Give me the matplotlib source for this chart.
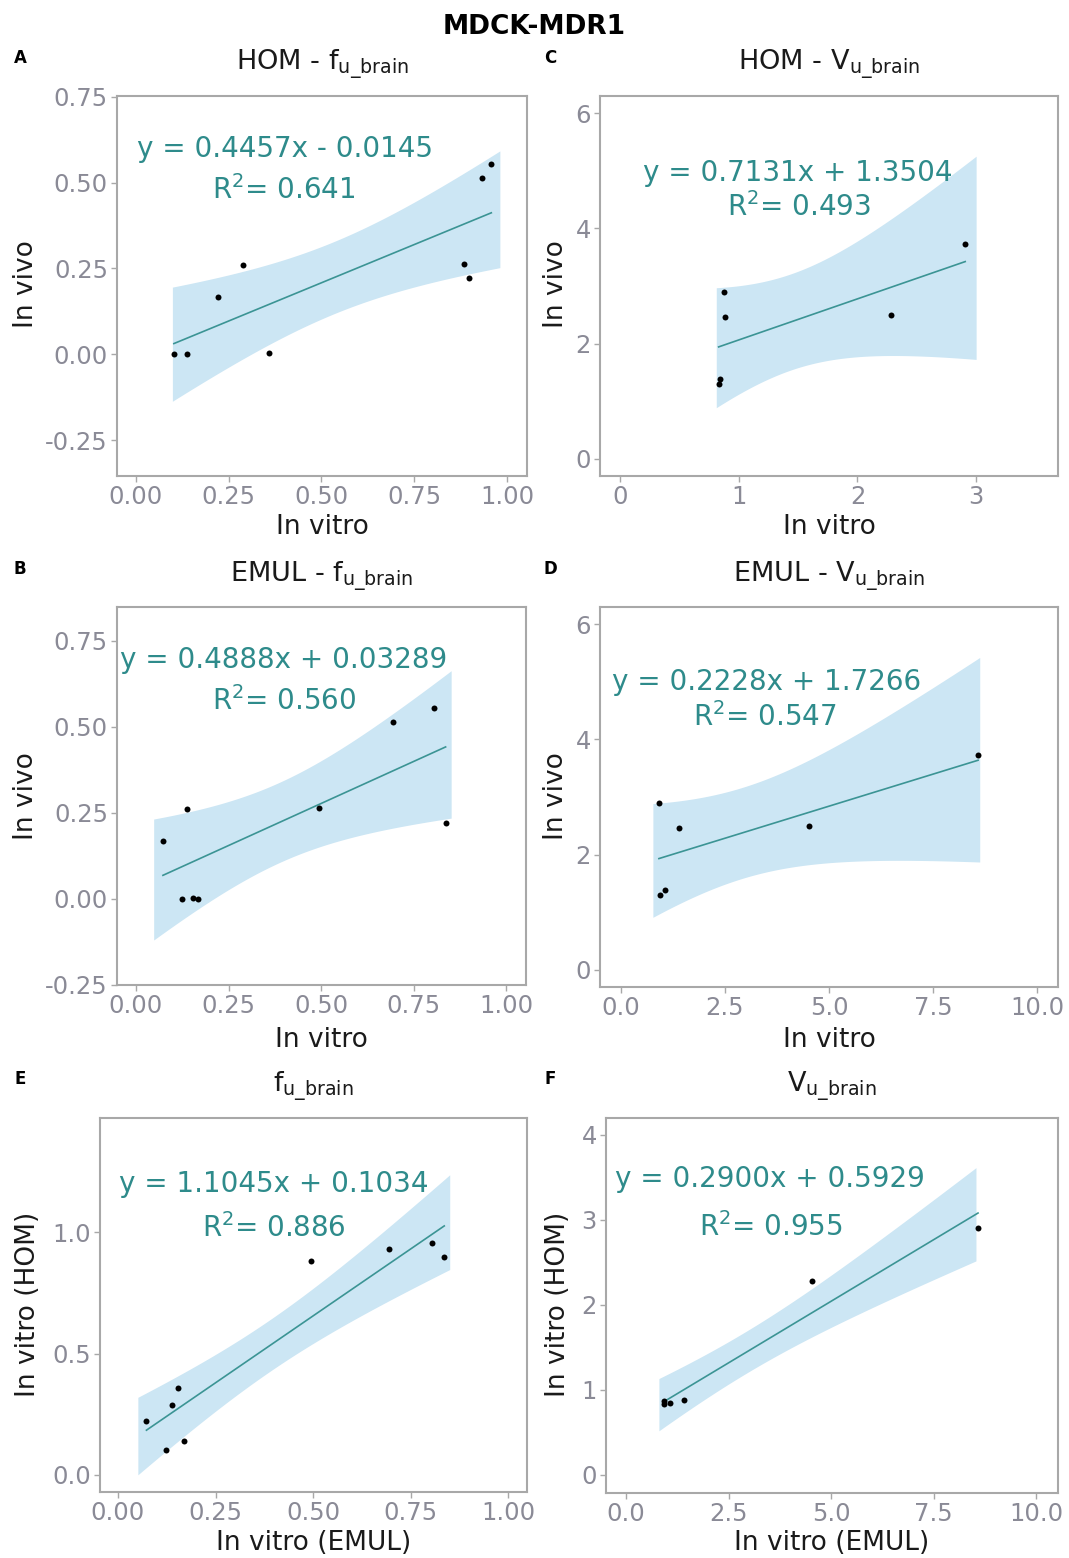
"""MDCK-MDR1 in vitro / in vivo correlation panels (fu,brain and Vu,brain).

Six scatter panels with the reported least-squares line, its 95% confidence
ribbon and the fitted equation / R^2 written inside each panel.
"""
import numpy as np
import matplotlib
matplotlib.use("Agg")
import matplotlib.pyplot as plt

plt.rcParams["font.family"] = ["DejaVu Sans"]
plt.rcParams["mathtext.fontset"] = "dejavusans"
plt.rcParams["axes.unicode_minus"] = False

W, H = 1069, 1558

# fu,brain per compound (same compound order in every array)
FU_EMUL = [0.073, 0.124, 0.139, 0.154, 0.168, 0.495, 0.694, 0.804, 0.836]
FU_HOM = [0.222, 0.103, 0.289, 0.360, 0.138, 0.883, 0.933, 0.957, 0.897]
FU_INVIVO = [0.168, 0.000, 0.260, 0.004, 0.000, 0.264, 0.513, 0.555, 0.222]

# Vu,brain per compound
VU_EMUL = [0.915, 0.93, 1.06, 1.40, 4.53, 8.58]
VU_HOM = [0.873, 0.830, 0.840, 0.884, 2.284, 2.908]
VU_INVIVO = [2.90, 1.29, 1.38, 2.47, 2.50, 3.73]

# reported fits: slope, intercept, R^2
FIT_A = (0.4457, -0.0145, 0.641)
FIT_B = (0.4888, 0.03289, 0.560)
FIT_C = (0.7131, 1.3504, 0.493)
FIT_D = (0.2228, 1.7266, 0.547)
FIT_E = (1.1045, 0.1034, 0.886)
FIT_F = (0.2900, 0.5929, 0.955)

# x-span of each confidence ribbon
BAND_A = (0.099, 0.980)
BAND_B = (0.048, 0.851)
BAND_C = (0.81, 3.00)
BAND_D = (0.77, 8.62)
BAND_E = (0.051, 0.850)
BAND_F = (0.80, 8.53)

FU_TICKS = [0.0, 0.25, 0.50, 0.75, 1.00]
FU_VIVO_TICKS = [-0.25, 0.0, 0.25, 0.50, 0.75]
FU_HOM_TICKS = [0.0, 0.5, 1.0]
VU_HOM_X_TICKS = [0, 1, 2, 3]
VU_TICKS = [0.0, 2.5, 5.0, 7.5, 10.0]
VU_VIVO_TICKS = [0, 2, 4, 6]
VU_HOM_Y_TICKS = [0, 1, 2, 3, 4]

# two-sided 95% t quantiles by residual degrees of freedom
T975 = {4: 2.776, 7: 2.365}

TEAL = "#2e8b8b"
LINE = "#3b9494"
BAND = "#cce6f4"
GREY_TXT = "#8a8a96"
FRAME = "#a8a8a8"

FU_SUB = r"$\mathregular{f_{u\_brain}}$"
VU_SUB = r"$\mathregular{V_{u\_brain}}$"

PANELS = [
    dict(letter="A", x=FU_HOM, y=FU_INVIVO, fit=FIT_A, band=BAND_A,
         rect=(117, 96, 527, 476), xlim=(-0.05, 1.053), ylim=(-0.354, 0.752),
         xticks=FU_TICKS, yticks=FU_VIVO_TICKS, xfmt="{:.2f}", yfmt="{:.2f}",
         title="HOM - " + FU_SUB, xlabel="In vitro", ylabel="In vivo",
         eq=(285, 157), r2=(284, 199), lab=(20, 58), ylab=(26, 284),
         xlab_y=534, title_y=71),
    dict(letter="C", x=VU_HOM, y=VU_INVIVO, fit=FIT_C, band=BAND_C,
         rect=(600, 96, 1058, 476), xlim=(-0.17, 3.69), ylim=(-0.3, 6.3),
         xticks=VU_HOM_X_TICKS, yticks=VU_VIVO_TICKS, xfmt="{:d}", yfmt="{:d}",
         title="HOM - " + VU_SUB, xlabel="In vitro", ylabel="In vivo",
         eq=(798, 181), r2=(799, 216), lab=(550, 58), ylab=(556, 284),
         xlab_y=534, title_y=71),
    dict(letter="B", x=FU_EMUL, y=FU_INVIVO, fit=FIT_B, band=BAND_B,
         rect=(117, 607, 526, 985), xlim=(-0.051, 1.053), ylim=(-0.246, 0.848),
         xticks=FU_TICKS, yticks=FU_VIVO_TICKS, xfmt="{:.2f}", yfmt="{:.2f}",
         title="EMUL - " + FU_SUB, xlabel="In vitro", ylabel="In vivo",
         eq=(284, 668), r2=(284, 710), lab=(20, 569), ylab=(26, 796),
         xlab_y=1047, title_y=582),
    dict(letter="D", x=VU_EMUL, y=VU_INVIVO, fit=FIT_D, band=BAND_D,
         rect=(600, 607, 1058, 987), xlim=(-0.5, 10.5), ylim=(-0.3, 6.3),
         xticks=VU_TICKS, yticks=VU_VIVO_TICKS, xfmt="{:.1f}", yfmt="{:d}",
         title="EMUL - " + VU_SUB, xlabel="In vitro", ylabel="In vivo",
         eq=(767, 690), r2=(765, 726), lab=(550, 569), ylab=(556, 796),
         xlab_y=1047, title_y=582),
    dict(letter="E", x=FU_EMUL, y=FU_HOM, fit=FIT_E, band=BAND_E,
         rect=(100, 1118, 527, 1492), xlim=(-0.046, 1.048), ylim=(-0.071, 1.472),
         xticks=FU_TICKS, yticks=FU_HOM_TICKS, xfmt="{:.2f}", yfmt="{:.1f}",
         title=FU_SUB, xlabel="In vitro (EMUL)", ylabel="In vitro (HOM)",
         eq=(274, 1192), r2=(274, 1237), lab=(20, 1079), ylab=(28, 1304),
         xlab_y=1550, title_y=1092),
    dict(letter="F", x=VU_EMUL, y=VU_HOM, fit=FIT_F, band=BAND_F,
         rect=(606, 1118, 1058, 1493), xlim=(-0.49, 10.53), ylim=(-0.215, 4.2),
         xticks=VU_TICKS, yticks=VU_HOM_Y_TICKS, xfmt="{:.1f}", yfmt="{:d}",
         title=VU_SUB, xlabel="In vitro (EMUL)", ylabel="In vitro (HOM)",
         eq=(770, 1187), r2=(771, 1236), lab=(550, 1079), ylab=(558, 1304),
         xlab_y=1550, title_y=1092),
]


def _rect(l, t, r, b):
    return [l / W, 1 - b / H, (r - l) / W, (b - t) / H]


def _text(fig, x, y, s, **kw):
    return fig.text(x / W, 1 - y / H, s, **kw)


def _ribbon(x, y, slope, icpt, span, npts=120):
    """95% confidence band of the mean response around the reported line."""
    x = np.asarray(x, float)
    y = np.asarray(y, float)
    n = len(x)
    resid = y - (slope * x + icpt)
    s = np.sqrt(np.sum(resid ** 2) / (n - 2))
    sxx = np.sum((x - x.mean()) ** 2)
    xs = np.linspace(span[0], span[1], npts)
    se = s * np.sqrt(1.0 / n + (xs - x.mean()) ** 2 / sxx)
    yhat = slope * xs + icpt
    t = T975[n - 2]
    return xs, yhat - t * se, yhat + t * se


def _equation(slope, icpt):
    sign = "+" if icpt >= 0 else "-"
    return f"y = {slope:.4f}x {sign} {abs(icpt):g}"


def draw_panel(fig, p):
    ax = fig.add_axes(_rect(*p["rect"]))
    slope, icpt, r2 = p["fit"]
    x = np.asarray(p["x"], float)

    xs, lo, hi = _ribbon(p["x"], p["y"], slope, icpt, p["band"])
    ax.fill_between(xs, lo, hi, color=BAND, linewidth=0, zorder=1)
    xl = np.array([x.min(), x.max()])
    ax.plot(xl, slope * xl + icpt, color=LINE, linewidth=1.2, zorder=2)
    ax.plot(p["x"], p["y"], "o", color="black", markersize=4.3,
            markeredgewidth=0, zorder=3)

    ax.set_xlim(*p["xlim"])
    ax.set_ylim(*p["ylim"])
    ax.set_xticks(p["xticks"])
    ax.set_yticks(p["yticks"])
    ax.set_xticklabels([p["xfmt"].format(v) for v in p["xticks"]])
    ax.set_yticklabels([p["yfmt"].format(v) for v in p["yticks"]])
    ax.tick_params(length=4, width=1, color=FRAME, labelcolor=GREY_TXT,
                   labelsize=17.5, pad=2.5)
    for sp in ax.spines.values():
        sp.set_color(FRAME)
        sp.set_linewidth(1.5)

    # fitted equation and R^2
    _text(fig, *p["eq"], _equation(slope, icpt), color=TEAL, fontsize=20,
          ha="center", va="baseline")
    _text(fig, *p["r2"], r"$\mathregular{R^2}$" + f"= {r2:.3f}", color=TEAL,
          fontsize=20, ha="center", va="baseline")

    l, t, r, b = p["rect"]
    cx = (l + r) / 2
    _text(fig, cx, p["title_y"], p["title"], fontsize=19.5, ha="center",
          va="baseline", color="#1a1a1a")
    _text(fig, cx, p["xlab_y"], p["xlabel"], fontsize=19, ha="center",
          va="baseline", color="#1a1a1a")
    _text(fig, *p["ylab"], p["ylabel"], fontsize=19, ha="center",
          va="center", rotation=90, color="#1a1a1a")
    _text(fig, *p["lab"], p["letter"], fontsize=12, fontweight="bold",
          ha="center", va="center")
    return ax


def main():
    fig = plt.figure(figsize=(W / 100, H / 100), dpi=100)
    _text(fig, 534.5, 34, "MDCK-MDR1", fontsize=19, fontweight="bold",
          ha="center", va="baseline")
    for p in PANELS:
        draw_panel(fig, p)
    fig.savefig("out.png", dpi=100, facecolor="white")


if __name__ == "__main__":
    main()
